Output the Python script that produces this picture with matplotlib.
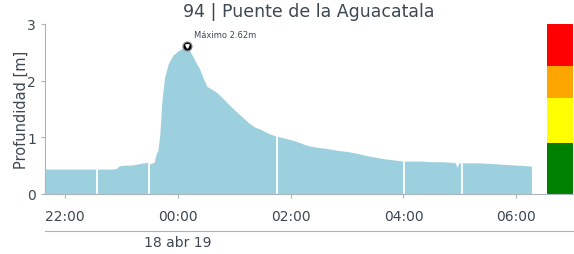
import datetime as dt
import matplotlib
matplotlib.use('Agg')
import matplotlib.pyplot as plt
import matplotlib.dates as mdates

# serie de profundidad (hora, metros)
horas = ['21:39', '21:50', '22:00', '22:10', '22:20', '22:30', '22:40', '22:50',
         '22:55', '22:58', '23:05', '23:10', '23:15', '23:20', '23:25', '23:28',
         '23:30', '23:35', '23:37', '23:39', '23:41', '23:43', '23:46', '23:50',
         '23:55', '00:00', '00:05', '00:10', '00:13', '00:16', '00:20', '00:23',
         '00:27', '00:31', '00:36', '00:41', '00:46', '00:52', '00:58', '01:06',
         '01:10', '01:16', '01:22', '01:27', '01:33', '01:38', '01:45', '01:50',
         '02:00', '02:06', '02:14', '02:20', '02:30', '02:40', '02:50', '03:00',
         '03:10', '03:20', '03:30', '03:40', '03:50', '04:00', '04:10', '04:20',
         '04:30', '04:40', '04:50', '04:55', '04:57', '04:59', '05:10', '05:20',
         '05:30', '05:40', '05:50', '06:00', '06:10', '06:16']
profundidad = [0.44, 0.44, 0.44, 0.44, 0.44, 0.44, 0.44, 0.44,
               0.45, 0.50, 0.51, 0.51, 0.52, 0.54, 0.55, 0.56,
               0.53, 0.56, 0.70, 0.77, 1.05, 1.60, 2.05, 2.30,
               2.45, 2.52, 2.57, 2.62, 2.52, 2.43, 2.30, 2.22,
               2.05, 1.90, 1.85, 1.80, 1.72, 1.62, 1.52, 1.40,
               1.34, 1.25, 1.18, 1.15, 1.10, 1.06, 1.02, 1.00,
               0.96, 0.93, 0.88, 0.85, 0.82, 0.80, 0.77, 0.75,
               0.72, 0.68, 0.65, 0.62, 0.60, 0.58, 0.58, 0.58,
               0.57, 0.57, 0.56, 0.55, 0.47, 0.55, 0.55, 0.55,
               0.54, 0.53, 0.52, 0.51, 0.50, 0.49]

# huecos sin dato
huecos = ['22:34', '23:29', '01:46', '04:01', '05:02']

# niveles de alerta
niveles = [0, 0.9, 1.7, 2.25, 3.0]
colores_nivel = ['green', 'yellow', 'orange', 'red']

maximo = 2.62
hora_maximo = '00:10'


def a_fecha(h):
    hh, mm = map(int, h.split(':'))
    dia = 17 if hh >= 12 else 18
    return dt.datetime(2019, 4, dia, hh, mm)


x = [a_fecha(h) for h in horas]
gris = '#3d4852'

fig = plt.figure(figsize=(5.74, 2.55), dpi=100)
ax = fig.add_axes([0.0784, 0.2353, 0.9196, 0.6667])

ax.fill_between(x, profundidad, 0, color='#9dd0de', linewidth=0)
for h in huecos:
    ax.axvline(a_fecha(h), color='white', linewidth=1.3)

# barra de niveles
inicio_barra = a_fecha('06:33')
ancho = 27 / (24 * 60)
for i, c in enumerate(colores_nivel):
    ax.bar(inicio_barra, niveles[i + 1] - niveles[i], width=ancho,
           bottom=niveles[i], color=c, align='edge', linewidth=0)

# maximo
xm = a_fecha(hora_maximo)
ax.plot(xm, maximo, 'o', color='black', markersize=6.5,
        markeredgecolor='#888888', markeredgewidth=0.8)
ax.plot(xm, maximo, 'v', color='white', markersize=2.5)
ax.annotate('Máximo %.2fm' % maximo, (xm, maximo), xytext=(5, 5),
            textcoords='offset points', fontsize=6, color=gris, va='bottom')

ax.set_xlim(a_fecha('21:39'), a_fecha('07:00'))
ax.set_ylim(0, 3)
ax.set_yticks([0, 1, 2, 3])
ax.xaxis.set_major_locator(mdates.HourLocator(byhour=range(0, 24, 2)))
ax.xaxis.set_major_formatter(mdates.DateFormatter('%H:%M'))

for s in ['top', 'right']:
    ax.spines[s].set_visible(False)
for s in ['left', 'bottom']:
    ax.spines[s].set_color('#aab4bb')
ax.tick_params(colors='#aab4bb', labelcolor=gris, labelsize=10, length=3)
ax.tick_params(axis='x', pad=8)

ax.set_ylabel('Profundidad [m]', fontsize=10.5, color=gris, labelpad=-1)
ax.set_title('94 | Puente de la Aguacatala', fontsize=12.5, color=gris, pad=6)

# eje de fecha
sec = ax.secondary_xaxis(-0.218)
sec.set_xticks([a_fecha('00:00')])
sec.set_xticklabels(['18 abr 19'])
sec.tick_params(length=0, labelsize=10, labelcolor=gris, pad=3)
sec.spines['bottom'].set_color('#aab4bb')

fig.savefig('out.png', dpi=100)
